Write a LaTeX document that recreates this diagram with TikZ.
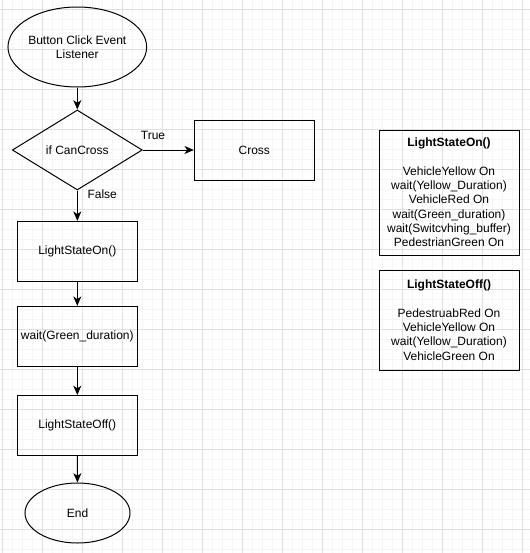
\documentclass[tikz,border=0pt]{standalone}
\usepackage{fontspec}
\setmainfont{Liberation Sans}
\usetikzlibrary{shapes}
\usetikzlibrary{arrows.meta}
\usetikzlibrary{positioning}

\definecolor{minorgray}{RGB}{245,245,245}
\definecolor{majorgray}{RGB}{224,224,224}

\tikzset{
  every node/.style={font=\fontsize{9}{10.75}\selectfont, text=black},
  minorline/.style={draw=minorgray, line width=0.75pt},
  majorline/.style={draw=majorgray, line width=0.75pt},
  process/.style={draw, rectangle, line width=0.75pt, minimum width=90pt, minimum height=45pt, inner sep=0pt, align=center},
  terminal/.style={draw, ellipse, line width=0.75pt, inner sep=0pt, align=center},
  decision/.style={draw, diamond, line width=0.75pt, minimum width=97.5pt, minimum height=60pt, inner sep=0pt},
  notebox/.style={draw, rectangle, line width=0.75pt, minimum width=105pt, inner sep=0pt, align=center},
  flow/.style={-{Stealth[length=7pt,width=6pt,inset=2pt]}, line width=0.75pt},
  branch/.style={font=\fontsize{9}{10.75}\selectfont}
}

\begin{document}
\begin{tikzpicture}[x=0.75pt, y=-0.75pt]
  \fill[white] (0,0) rectangle (530,553);
  \useasboundingbox (0,0) rectangle (530,553);
  % background grid
  \foreach \i in {0,...,52} {
    \draw[minorline] ({2.3+10*\i},0) -- ({2.3+10*\i},553);
  }
  \foreach \i in {0,...,54} {
    \draw[minorline] (0,{9.3+10*\i}) -- (530,{9.3+10*\i});
  }
  \foreach \i in {0,...,13} {
    \draw[majorline] ({2.3+40*\i},0) -- ({2.3+40*\i},553);
  }
  \foreach \i in {0,...,13} {
    \draw[majorline] (0,{9.3+40*\i}) -- (530,{9.3+40*\i});
  }

  % flow chart
  \node[terminal, minimum width=90pt, minimum height=60pt] (start) at (77.3,47) {Button Click Event\\Listener};
  \node[decision] (cancross) at (77.3,150) {if CanCross};
  \node[process] (cross) at (254.3,150) {Cross};
  \node[process] (stateon) at (77.3,251.3) {LightStateOn()};
  \node[process] (waitgreen) at (77.3,336.3) {wait(Green\_duration)};
  \node[process] (stateoff) at (77.3,425.5) {LightStateOff()};
  \node[terminal, minimum width=78.75pt, minimum height=45pt] (stop) at (77.5,513) {End};

  \draw[flow] (start) -- (cancross);
  \draw[flow] (cancross) -- node[branch, above, pos=0.2, yshift=4pt] {True} (cross);
  \draw[flow] (cancross) -- node[branch, right, pos=0.12, xshift=4pt] {False} (stateon);
  \draw[flow] (stateon) -- (waitgreen);
  \draw[flow] (waitgreen) -- (stateoff);
  \draw[flow] (stateoff) -- (stop);

  % notes
  \node[notebox, minimum height=93.75pt] (onnote) at (449,192.5)
    {\textbf{LightStateOn()}\\[10.75pt]
     VehicleYellow On\\
     wait(Yellow\_Duration)\\
     VehicleRed On\\
     wait(Green\_duration)\\
     wait(Switcvhing\_buffer)\\
     PedestrianGreen On};
  \node[notebox, minimum height=75pt] (offnote) at (449,320)
    {\textbf{LightStateOff()}\\[10.75pt]
     PedestruabRed On\\
     VehicleYellow On\\
     wait(Yellow\_Duration)\\
     VehicleGreen On};
\end{tikzpicture}
\end{document}
